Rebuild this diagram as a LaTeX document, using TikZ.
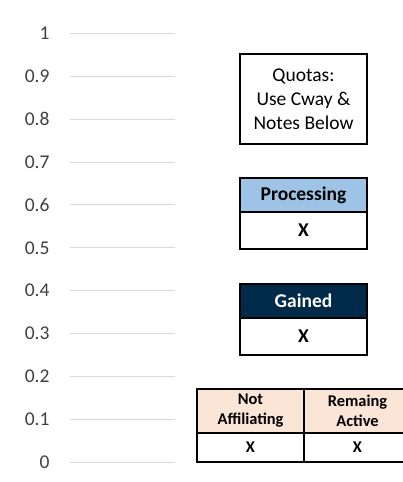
\documentclass[tikz,border=0pt]{standalone}
\usepackage{fontspec}
\setmainfont{Carlito}
\usepackage{xcolor}
\usetikzlibrary{positioning}
\definecolor{gridgray}{RGB}{217,217,217}
\definecolor{axisgray}{RGB}{64,64,64}
\definecolor{procblue}{RGB}{157,195,230}
\definecolor{gainnavy}{RGB}{0,42,74}
\definecolor{peach}{RGB}{251,229,214}

\tikzset{
  cell/.style={draw=black, line width=2.3pt, inner sep=0pt, outer sep=0pt, align=center,
    font=\fontsize{19.5}{24}\selectfont},
  headcell/.style={cell, font=\fontsize{19.5}{24}\selectfont\bfseries},
  smallcell/.style={cell, font=\fontsize{16.4}{20}\selectfont\bfseries},
  axislabel/.style={anchor=east, text=axisgray, font=\fontsize{19.5}{24}\selectfont},
}

\begin{document}
\begin{tikzpicture}[x=1pt,y=-1pt]
      \useasboundingbox (0,0) rectangle (402,482);

      % value axis with its grid lines
      \foreach \lab [count=\i from 0] in {1,0.9,0.8,0.7,0.6,0.5,0.4,0.3,0.2,0.1,0} {
        \node[axislabel] (tick\i) at (53,{33.5+42.85*\i}) {\lab};
        \draw[gridgray, line width=1pt] (70,{33.5+42.85*\i}) -- (175,{33.5+42.85*\i});
      }

      \node[cell, minimum width=127pt, minimum height=90pt] (quotasbox) at (303.5,99)
        {\raisebox{-2.5pt}{\parbox{120pt}{\centering Quotas:\\Use Cway \&\\Notes Below}}};

      \node[headcell, fill=procblue, minimum width=127pt, minimum height=34pt] (prochead) at (303.5,195) {Processing};
      \node[headcell, minimum width=127pt, minimum height=37pt, below=0pt of prochead] (procval) {X};

      \node[headcell, fill=gainnavy, text=white, minimum width=127pt, minimum height=34pt] (gainhead) at (303.5,301) {Gained};
      \node[headcell, minimum width=127pt, minimum height=37pt, below=0pt of gainhead] (gainval) {X};

      \node[smallcell, fill=peach, minimum width=107pt, minimum height=44pt] (notaffhead) at (250.5,411) {Not\\Affiliating};
      \node[smallcell, fill=peach, minimum width=107pt, minimum height=44pt, right=0pt of notaffhead] (remainhead) {Remaing\\Active};
      \node[smallcell, minimum width=107pt, minimum height=29pt, below=0pt of notaffhead] (notaffval) {X};
      \node[smallcell, minimum width=107pt, minimum height=29pt, below=0pt of remainhead] (remainval) {X};
\end{tikzpicture}
\end{document}
